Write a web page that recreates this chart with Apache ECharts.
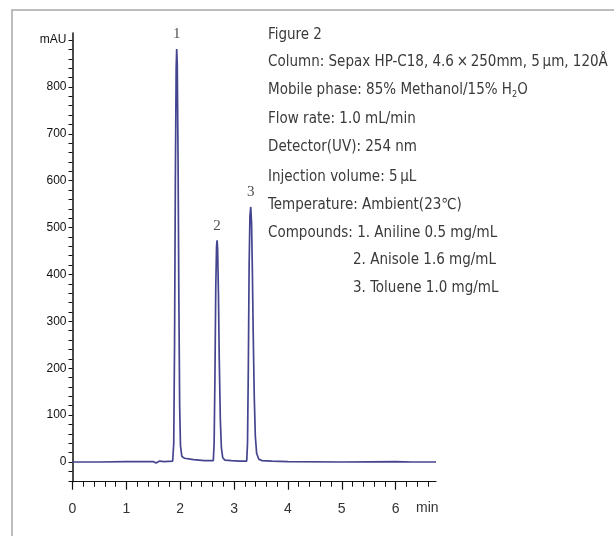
<!DOCTYPE html>
<html>
<head>
<meta charset="utf-8">
<script src="https://cdn.jsdelivr.net/npm/echarts@6/dist/echarts.min.js"></script>
<style>html,body{margin:0;padding:0;background:#fff;}#c{width:614px;height:536px;}</style>
</head>
<body>
<div id="c"></div>
<script>
// Chromatogram trace: retention time (min) and absorbance (mAU)
var times = [0, 0.5, 1.0, 1.5, 1.55, 1.58, 1.62, 1.7, 1.86, 1.88, 1.895, 1.91, 1.925, 1.935, 1.945, 1.96, 1.975, 1.99, 2.005, 2.03, 2.08, 2.25, 2.45, 2.615, 2.63, 2.645, 2.66, 2.675, 2.685, 2.695, 2.71, 2.725, 2.745, 2.765, 2.79, 2.83, 2.95, 3.1, 3.235, 3.25, 3.265, 3.28, 3.295, 3.31, 3.325, 3.34, 3.355, 3.375, 3.395, 3.42, 3.46, 3.52, 3.7, 4.0, 5.0, 6.0, 6.3, 6.75];
var mAU   = [0, 0, 1, 1, -2, -3, 2, 1, 2, 40, 250, 600, 840, 881, 850, 650, 350, 120, 35, 12, 8, 5, 3, 3, 40, 180, 370, 460, 473, 455, 360, 220, 90, 30, 9, 4, 3, 2, 2, 40, 200, 420, 525, 544, 510, 410, 280, 140, 55, 18, 6, 3, 2, 1, 0, 1, 0, 0];

// Peak annotations
var peakTimes  = [1.935, 2.685, 3.31];
var peakHeights = [881, 473, 544];
var peakNames  = ['1', '2', '3'];

// Axis ticks and labels
var xMajorTicks = [0, 1, 2, 3, 4, 5, 6];
var xMinorTicks = [0.2, 0.4, 0.6, 0.8, 1.2, 1.4, 1.6, 1.8, 2.2, 2.4, 2.6, 2.8, 3.2, 3.4, 3.6, 3.8, 4.2, 4.4, 4.6, 4.8, 5.2, 5.4, 5.6, 5.8, 6.2, 6.4, 6.6];
var yLabelValues = [0, 100, 200, 300, 400, 500, 600, 700, 800, 900];
var yTickValues = [-40, -20, 0, 20, 40, 60, 80, 100, 120, 140, 160, 180, 200, 220, 240, 260, 280, 300, 320, 340, 360, 380, 400, 420, 440, 460, 480, 500, 520, 540, 560, 580, 600, 620, 640, 660, 680, 700, 720, 740, 760, 780, 800, 820, 840, 860, 880, 900];

// Info text block
var infoLines = [
  'Figure 2',
  'Column: Sepax HP-C18, 4.6\u2009\u00d7\u2009250mm, 5\u2009\u00b5m, 120\u00c5',
  'Mobile phase: 85% Methanol/15% H{sub|2}O',
  'Flow rate: 1.0 mL/min',
  'Detector(UV): 254 nm',
  'Injection volume: 5\u2009\u00b5L',
  'Temperature: Ambient(23\u2103)',
  'Compounds: 1. Aniline 0.5 mg/mL'
];
var compoundLines = ['2. Anisole 1.6 mg/mL', '3. Toluene 1.0 mg/mL'];

var narrow = "'Liberation Sans Narrow', 'DejaVu Sans Condensed', 'Roboto', sans-serif";
var lineData = times.map(function (t, i) { return [t, mAU[i]]; });
var peakData = peakTimes.map(function (t, i) { return [t, peakHeights[i], peakNames[i]]; });

var graphics = [
  { type: 'polyline', silent: true, shape: { points: [[12, 540], [12, 10], [620, 10]] },
    style: { stroke: '#a8a8a8', lineWidth: 1.5, fill: null } },
  { type: 'text', left: 416, top: 501, style: { text: 'min', fontSize: 14, fill: '#333', fontFamily: 'Liberation Sans, Arial, sans-serif' } }
];
var lineTops = [28, 55, 83, 112, 140, 170, 198, 226];
infoLines.forEach(function (s, i) {
  graphics.push({ type: 'text', left: 268, top: lineTops[i], style: {
    text: s, fontSize: 15, fill: '#3a3a3a', fontFamily: narrow,
    rich: { sub: { fontSize: 9, verticalAlign: 'bottom', padding: [9, 0, 0, 0], fill: '#3a3a3a', fontFamily: narrow } }
  } });
});
var compTops = [253, 281];
compoundLines.forEach(function (s, i) {
  graphics.push({ type: 'text', left: 353, top: compTops[i], style: { text: s, fontSize: 15, fill: '#3a3a3a', fontFamily: narrow } });
});

var chart = echarts.init(document.getElementById('c'), null, { renderer: 'canvas' });
chart.setOption({
  animation: false,
  backgroundColor: '#fff',
  grid: { left: 72.5, right: 178, top: 33, bottom: 54.3, containLabel: false },
  xAxis: [
    { type: 'value', min: 0, max: 6.75,
      axisLine: { show: true, onZero: false, lineStyle: { color: '#111', width: 1.2 } },
      axisTick: { show: true, customValues: xMajorTicks, length: 8, lineStyle: { color: '#111', width: 1.2 } },
      axisLabel: { customValues: xMajorTicks, margin: 20, fontSize: 14, color: '#333', fontFamily: 'Liberation Sans, Arial, sans-serif' },
      splitLine: { show: false } },
    { type: 'value', min: 0, max: 6.75, position: 'bottom',
      axisLine: { show: false, onZero: false },
      axisTick: { show: true, customValues: xMinorTicks, length: 5, lineStyle: { color: '#111', width: 1 } },
      axisLabel: { show: false },
      splitLine: { show: false } }
  ],
  yAxis: {
    type: 'value', min: -42, max: 915,
    axisLine: { show: true, onZero: false, lineStyle: { color: '#111', width: 1.5 } },
    axisTick: { show: true, customValues: yTickValues, length: 4, lineStyle: { color: '#111', width: 1 } },
    axisLabel: { customValues: yLabelValues, margin: 6, fontSize: 12, color: '#111', fontFamily: 'Liberation Sans, Arial, sans-serif',
      formatter: function (v) { return v === 900 ? 'mAU' : String(v); } },
    splitLine: { show: false }
  },
  series: [
    { type: 'line', xAxisIndex: 0, data: lineData, showSymbol: false, symbol: 'none',
      lineStyle: { color: '#45458f', width: 1.7 }, z: 3 },
    { type: 'scatter', xAxisIndex: 0, data: peakData, symbolSize: 0, silent: true,
      label: { show: true, position: 'top', distance: 7, formatter: function (p) { return p.data[2]; },
        fontSize: 15, color: '#222', fontFamily: "'Liberation Serif', 'DejaVu Serif', serif" } }
  ],
  graphic: graphics
});
</script>
</body>
</html>
